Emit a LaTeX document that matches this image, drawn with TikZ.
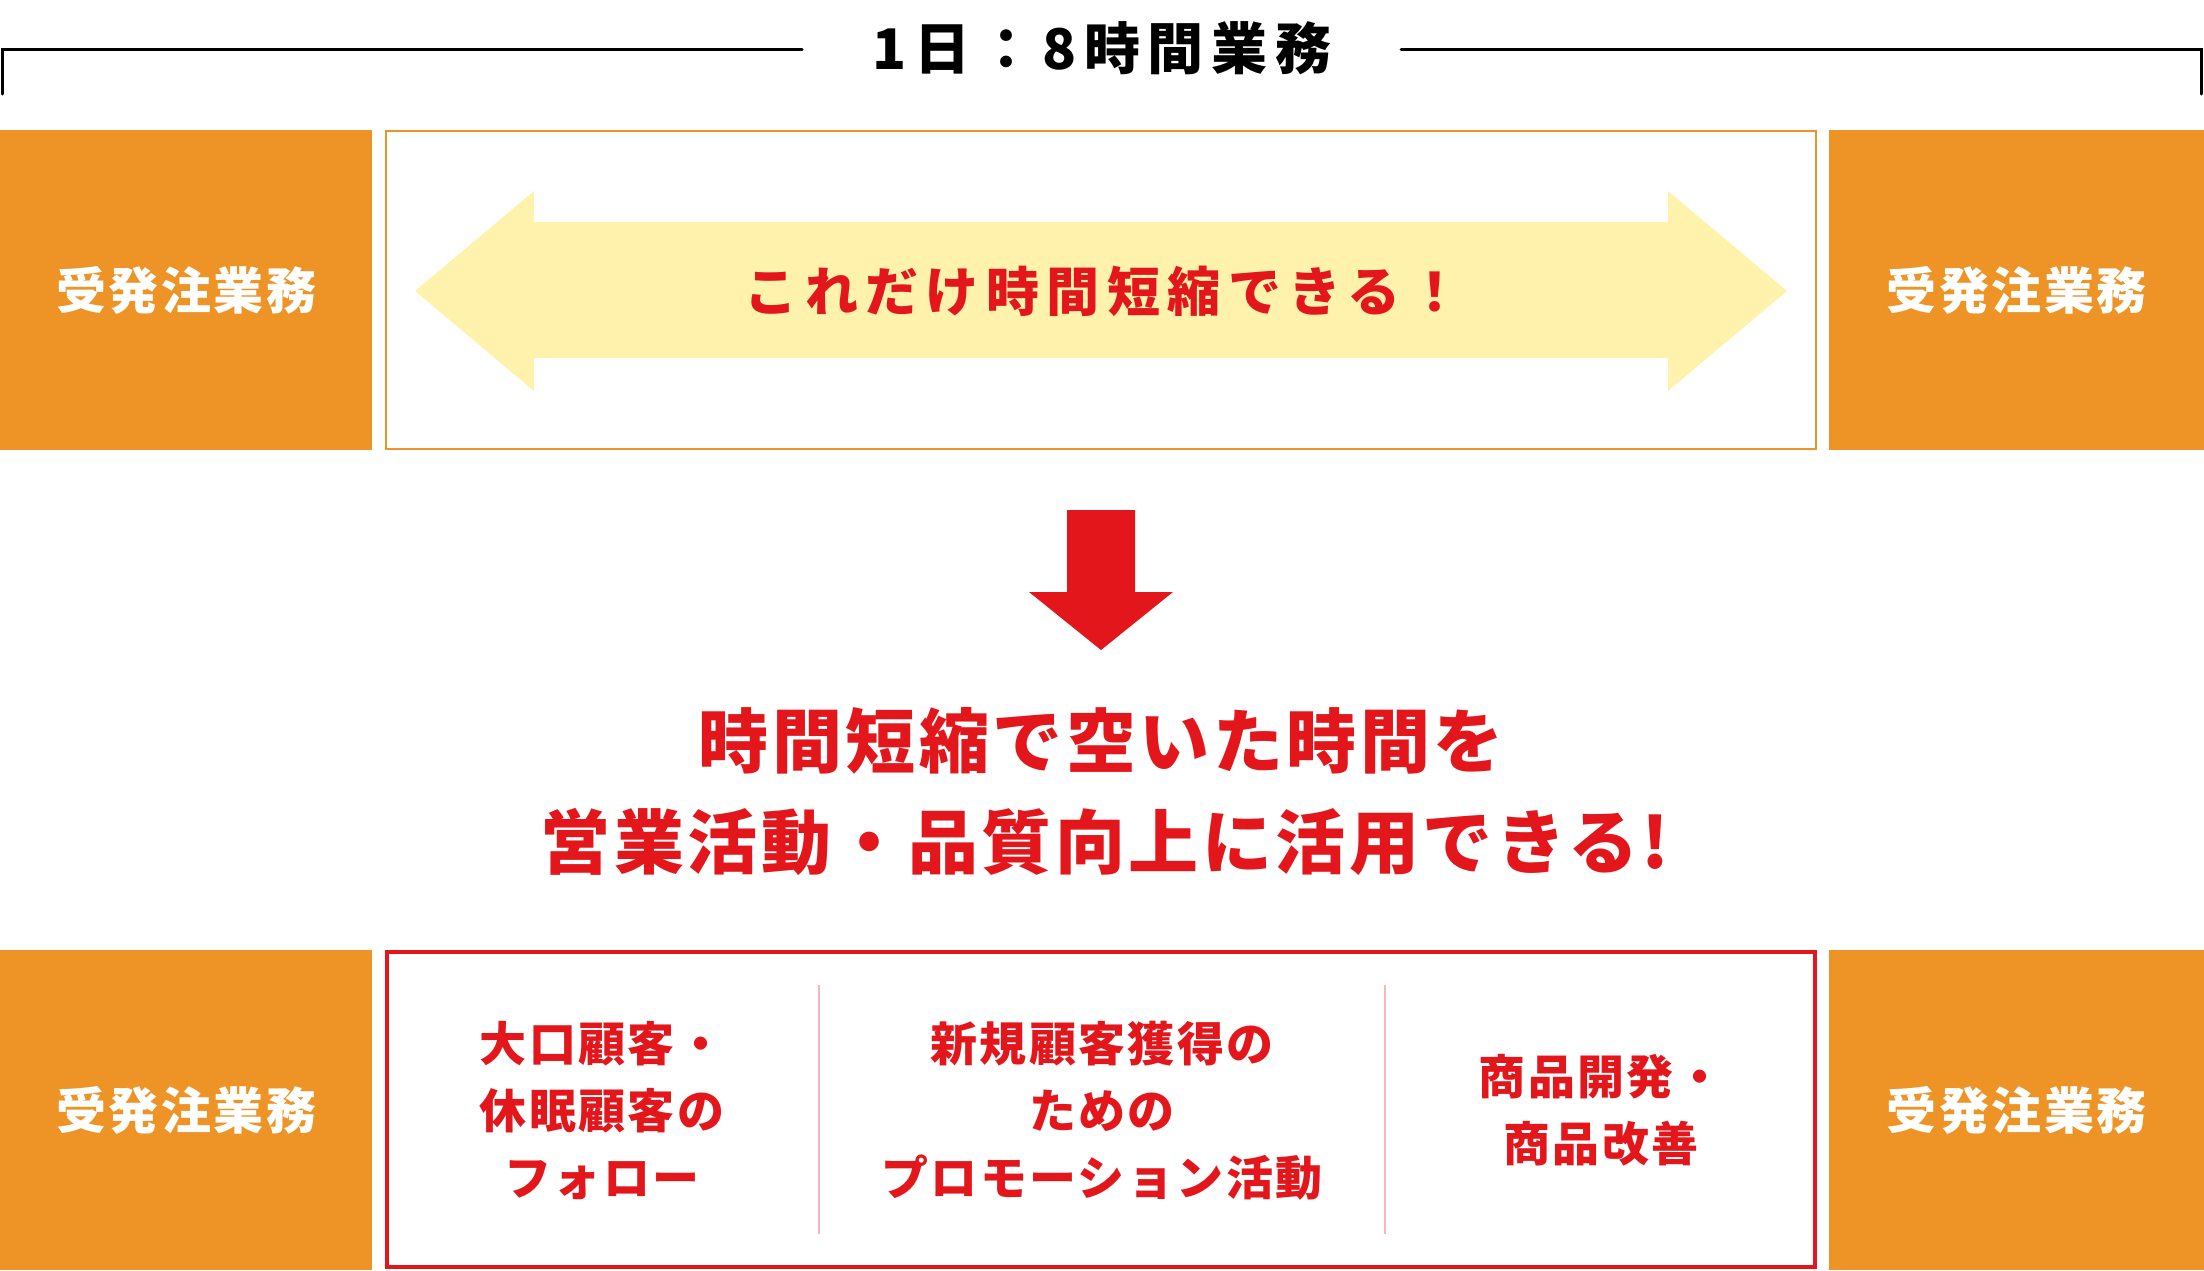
\documentclass[tikz,border=0pt]{standalone}
\usepackage{fontspec}
\setmainfont{Noto Sans CJK JP}
\newfontfamily\jpa{Noto Sans CJK JP}[LetterSpace=5]
\newfontfamily\jpb{Noto Sans CJK JP}[LetterSpace=14]
\definecolor{org}{HTML}{EE9427}
\definecolor{rd}{HTML}{E3171B}
\definecolor{yl}{HTML}{FEF2AD}
\definecolor{pk}{HTML}{F3B8BC}
\begin{document}
\begin{tikzpicture}[x=0.5pt,y=-0.5pt,
  obox/.style={fill=org,text=white,inner sep=0pt,outer sep=0pt,minimum height=160pt,
    font=\jpa\bfseries\fontsize{25pt}{30pt}\selectfont},
  coltext/.style={text=rd,align=center,inner sep=0pt,
    font=\jpa\bfseries\fontsize{23.5pt}{33.5pt}\selectfont},
  bracket/.style={line width=1.5pt,line cap=round},
  divider/.style={draw=pk,line width=0.6pt}]
\useasboundingbox (0,0) rectangle (2204,1270);
% title bracket
\node[font=\jpb\bfseries\fontsize{28pt}{32pt}\selectfont,inner sep=0pt] (title) at (1102,48) {1日：8時間業務};
\coordinate (bl0) at (2,94);
\coordinate (bl1) at (802,49);
\coordinate (br0) at (1401,49);
\coordinate (br1) at (2201,94);
\draw[bracket] (bl0) |- (bl1);
\draw[bracket] (br0) -| (br1);
% top row
\node[obox,minimum width=186pt] (tl) at (186,290) {受発注業務};
\node[obox,minimum width=187.5pt] (tr) at (2016.5,290) {受発注業務};
\node[draw=org,line width=1pt,minimum width=715pt,minimum height=159pt,inner sep=0pt] (tm) at (1101,290) {};
\fill[yl] (415,291) -- (534,191) -- (534,222) -- (1668,222) -- (1668,191) -- (1787,291)
  -- (1668,391) -- (1668,358) -- (534,358) -- (534,391) -- cycle;
\node[text=rd,inner sep=0pt,font=\jpb\bfseries\fontsize{26.5pt}{30pt}\selectfont] (slogan) at (1103,291) {これだけ時間短縮できる！};
% red arrow
\fill[rd] (1067,510) -- (1135,510) -- (1135,592) -- (1173,592) -- (1101,650) -- (1029,592) -- (1067,592) -- cycle;
% main text
\node[text=rd,inner sep=0pt,font=\jpa\bfseries\fontsize{35pt}{40pt}\selectfont] (m1) at (1101,741) {時間短縮で空いた時間を};
\node[text=rd,inner sep=0pt,font=\jpa\bfseries\fontsize{35pt}{40pt}\selectfont] (m2) at (1105,842) {営業活動・品質向上に活用できる!};
% bottom row
\node[obox,minimum width=186pt] (bl) at (186,1110) {受発注業務};
\node[obox,minimum width=187.5pt] (br) at (2016.5,1110) {受発注業務};
\node[draw=rd,line width=2pt,minimum width=714pt,minimum height=157.5pt,inner sep=0pt] (bm) at (1101,1109.5) {};
\coordinate (d1a) at (819,985);
\coordinate (d1b) at (819,1234);
\coordinate (d2a) at (1385,985);
\coordinate (d2b) at (1385,1234);
\draw[divider] (d1a) -- (d1b);
\draw[divider] (d2a) -- (d2b);
\node[coltext] (c1) at (602,1111) {大口顧客・\\休眠顧客の\\フォロー};
\node[coltext] (c2) at (1102,1111) {新規顧客獲得の\\ための\\プロモーション活動};
\node[coltext] (c3) at (1601,1110) {商品開発・\\商品改善};
\end{tikzpicture}
\end{document}
